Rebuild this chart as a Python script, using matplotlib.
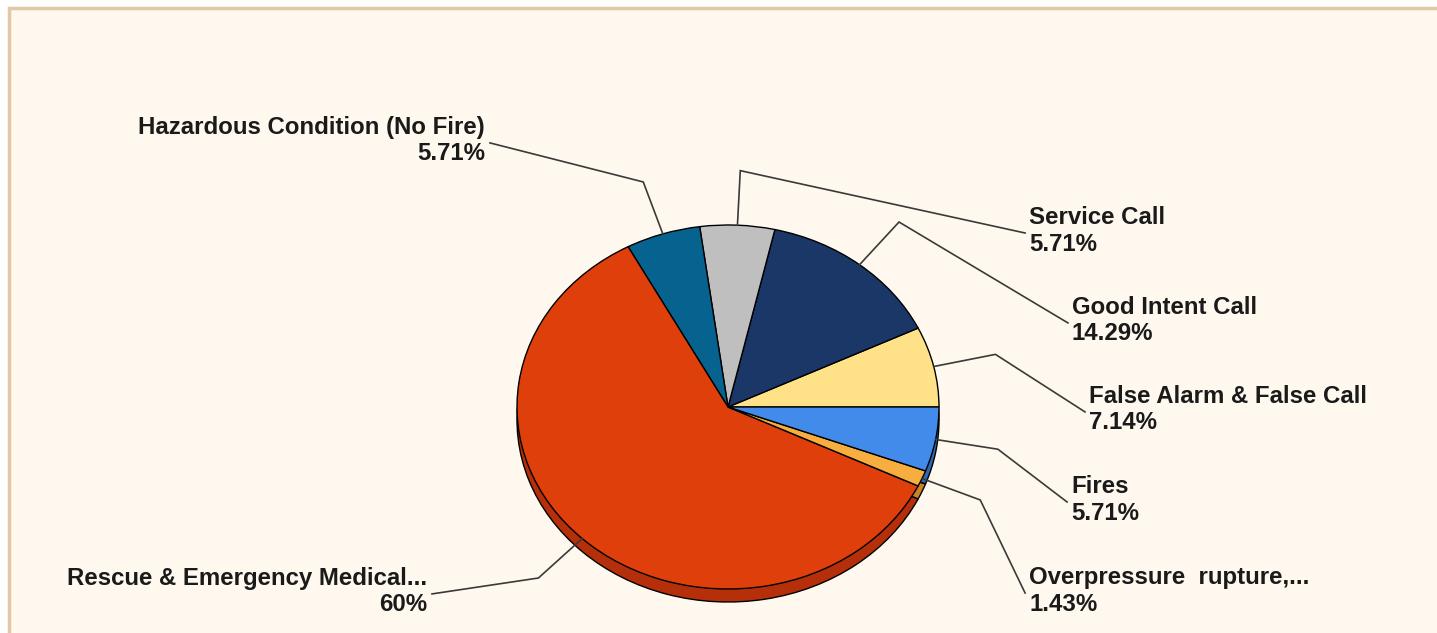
import numpy as np
import matplotlib.pyplot as plt
from matplotlib.patches import Rectangle

plt.rcParams['font.family'] = ['Liberation Sans', 'DejaVu Sans']

# slices, counterclockwise from 3 o'clock
labels = ["False Alarm & False Call", "Good Intent Call", "Service Call",
          "Hazardous Condition (No Fire)", "Rescue & Emergency Medical...",
          "Overpressure  rupture,...", "Fires"]
pct = [7.14, 14.29, 5.71, 5.71, 60, 1.43, 5.71]
pct_text = ["7.14%", "14.29%", "5.71%", "5.71%", "60%", "1.43%", "5.71%"]

colors = ["#FFE287", "#1B3767", "#BFBFBF", "#06628F", "#DF3F0A", "#F8AE3E", "#428BEB"]
side_colors = ["#C9AF5E", "#122648", "#8F8F8F", "#044766", "#B5300A", "#C8822A", "#2F66B0"]

# where the label line ends (pie radius units, x and y scaled separately)
label_end = [(1.692, -0.027), (1.611, 0.462), (1.408, 0.956), (-1.128, 1.451),
             (-1.403, -1.027), (1.408, -1.022), (1.607, -0.522)]

W, H = 1437, 633
cx, cy = 728, 407          # pie centre in pixels (from top)
rx, ry = 211, 182          # ellipse radii in pixels
depth = 13 / ry

fig = plt.figure(figsize=[W / 100, H / 100], dpi=100, facecolor="white")
fig.patches.append(Rectangle((9 / W, -0.05), 1.1, (H - 8) / H + 0.05,
                             transform=fig.transFigure, facecolor="#FFF8EE",
                             edgecolor="#E0C9A4", linewidth=2.5, zorder=-10))

ax = fig.add_axes([0, 0, 1, 1])
ax.patch.set_alpha(0)

# side of the pie
ax.pie(pct, colors=side_colors, startangle=0, counterclock=True, center=(0, -depth),
       wedgeprops=dict(edgecolor="black", linewidth=1.0), frame=False)
# top face
wedges, _ = ax.pie(pct, colors=colors, startangle=0, counterclock=True,
                   wedgeprops=dict(edgecolor="black", linewidth=1.0), frame=False)

ax.set_aspect("auto")
ax.set_xlim(-cx / rx, (W - cx) / rx)
ax.set_ylim(-(H - cy) / ry, cy / ry)
ax.axis("off")

for w, lab, ptxt, (ex, ey) in zip(wedges, labels, pct_text, label_end):
    mid = np.deg2rad((w.theta1 + w.theta2) / 2)
    x0, y0 = np.cos(mid), np.sin(mid)
    x1, y1 = 1.3 * x0, 1.3 * y0
    ax.plot([x0, x1, ex], [y0, y1, ey], color="#3a3a3a", linewidth=1.2,
            solid_joinstyle="miter", zorder=3)
    if ex > 0:
        tx, ha = ex + 4 / rx, "left"
    else:
        tx, ha = ex - 5 / rx, "right"
    ax.text(tx, ey + 2 / ry, lab + "\n" + ptxt, ha=ha, va="center", multialignment=ha,
            fontsize=17.3, fontweight="bold", color="#1a1a1a", linespacing=1.17, zorder=4)

fig.savefig("out.png", dpi=100, facecolor="white")
